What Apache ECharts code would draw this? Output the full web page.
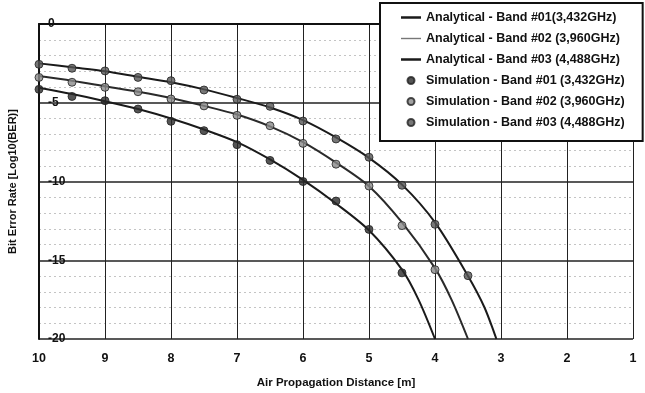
<!DOCTYPE html>
<html><head><meta charset="utf-8">
<script src="https://cdn.jsdelivr.net/npm/echarts@6/dist/echarts.min.js"></script>
<style>html,body{margin:0;padding:0;background:#fff}#c{width:645px;height:393px}</style>
</head><body><div id="c"></div>
<script>
// Analytical curves (x in m, y = log10(BER))
var anaX1 = [10, 9.5, 9, 8.5, 8, 7.5, 7, 6.5, 6, 5.5, 5, 4.5, 4.25, 4];
var anaY1 = [-4.05, -4.45, -4.9, -5.4, -6.0, -6.7, -7.5, -8.6, -9.9, -11.4, -13.1, -15.6, -17.5, -20];
var anaX2 = [10, 9.5, 9, 8.5, 8, 7.5, 7, 6.5, 6, 5.5, 5, 4.5, 4, 3.75, 3.5];
var anaY2 = [-3.3, -3.6, -3.95, -4.3, -4.7, -5.2, -5.75, -6.5, -7.5, -8.8, -10.3, -12.6, -15.5, -17.5, -20];
var anaX3 = [10, 9.5, 9, 8.5, 8, 7.5, 7, 6.5, 6, 5.5, 5, 4.5, 4, 3.5, 3.25, 3.07];
var anaY3 = [-2.5, -2.75, -3.0, -3.35, -3.7, -4.15, -4.7, -5.3, -6.1, -7.2, -8.5, -10.2, -12.6, -16.0, -18.0, -20];
// Simulation points
var simX1 = [10, 9.5, 9, 8.5, 8, 7.5, 7, 6.5, 6, 5.5, 5, 4.5];
var simY1 = [-4.15, -4.6, -4.87, -5.4, -6.18, -6.77, -7.66, -8.66, -10.0, -11.24, -13.04, -15.8];
var simX2 = [10, 9.5, 9, 8.5, 8, 7.5, 7, 6.5, 6, 5.5, 5, 4.5, 4];
var simY2 = [-3.39, -3.7, -4.02, -4.3, -4.76, -5.2, -5.8, -6.46, -7.58, -8.9, -10.29, -12.8, -15.6];
var simX3 = [10, 9.5, 9, 8.5, 8, 7.5, 7, 6.5, 6, 5.5, 5, 4.5, 4, 3.5];
var simY3 = [-2.56, -2.81, -2.98, -3.39, -3.6, -4.19, -4.78, -5.23, -6.16, -7.3, -8.46, -10.24, -12.72, -15.98];
var names = [
  'Analytical - Band #01(3,432GHz)',
  'Analytical - Band #02 (3,960GHz)',
  'Analytical - Band #03 (4,488GHz)',
  'Simulation - Band #01 (3,432GHz)',
  'Simulation - Band #02 (3,960GHz)',
  'Simulation - Band #03 (4,488GHz)'
];
var xTitle = 'Air Propagation Distance [m]';
var yTitle = 'Bit Error Rate [Log10(BER)]';

function zip(xs, ys){ return xs.map(function(x,i){ return [x, ys[i]]; }); }
var FONT = '"Liberation Sans", Arial, sans-serif';
var BAR = 'path://M0,0L20,0L20,2.5L0,2.5Z';
var BAR_THIN = 'path://M0,0L20,0L20,1.4L0,1.4Z';

var chart = echarts.init(document.getElementById('c'));
function lineS(name, xs, ys, color, w){
  return { name: name, type: 'line', data: zip(xs, ys), smooth: 0.3, symbol: 'none',
    lineStyle: { color: color, width: w }, itemStyle: { color: color }, z: 3 };
}
function scatS(name, xs, ys, color){
  return { name: name, type: 'scatter', data: zip(xs, ys), symbol: 'circle', symbolSize: 8,
    itemStyle: { color: color, borderColor: '#222', borderWidth: 1 }, z: 4 };
}
chart.setOption({
  animation: false,
  backgroundColor: '#fff',
  grid: { left: 39, right: 12, top: 24, bottom: 54, containLabel: false, outerBoundsMode: 'none' },
  legend: {
    orient: 'vertical', left: 380, top: 3,
    padding: [8, 18, 12, 21],
    itemGap: 8, itemWidth: 20, itemHeight: 7,
    backgroundColor: '#fff', borderColor: '#111', borderWidth: 2, borderRadius: 0,
    textStyle: { fontFamily: FONT, fontWeight: 'bold', fontSize: 12.5, color: '#111', lineHeight: 13 },
    data: [
      { name: names[0], icon: BAR, itemStyle: { color: '#1a1a1a' } },
      { name: names[1], icon: BAR_THIN, itemStyle: { color: '#777' } },
      { name: names[2], icon: BAR, itemStyle: { color: '#1a1a1a' } },
      { name: names[3], icon: 'circle' },
      { name: names[4], icon: 'circle' },
      { name: names[5], icon: 'circle' }
    ]
  },
  xAxis: {
    type: 'value', inverse: true, min: 1, max: 10, interval: 1,
    name: xTitle, nameLocation: 'middle', nameGap: 38,
    nameTextStyle: { fontFamily: FONT, fontWeight: 'bold', fontSize: 11.5, color: '#111' },
    axisLine: { show: true, lineStyle: { color: '#111', width: 2 } },
    axisTick: { show: true, length: 4, lineStyle: { color: '#111' } },
    axisLabel: { fontFamily: FONT, fontWeight: 'bold', fontSize: 12.5, color: '#111', margin: 13 },
    splitLine: { show: true, lineStyle: { color: '#222', width: 1 } }
  },
  yAxis: {
    type: 'value', min: -20, max: 0, interval: 5,
    name: yTitle, nameLocation: 'middle', nameGap: 21, nameRotate: 90,
    nameTextStyle: { fontFamily: FONT, fontWeight: 'bold', fontSize: 11, color: '#111' },
    axisLine: { show: true, lineStyle: { color: '#111', width: 2 } },
    axisTick: { show: false },
    axisLabel: { inside: true, margin: 9, fontFamily: FONT, fontWeight: 'bold', fontSize: 12, color: '#111' },
    splitLine: { show: true, lineStyle: { color: '#222', width: 1.5 } },
    minorTick: { show: false, splitNumber: 5 },
    minorSplitLine: { show: true, lineStyle: { color: '#c4c4c4', width: 1, type: [2, 3] } }
  },
  series: [
    lineS(names[0], anaX1, anaY1, '#1a1a1a', 2),
    lineS(names[1], anaX2, anaY2, '#2a2a2a', 2),
    lineS(names[2], anaX3, anaY3, '#1a1a1a', 2),
    scatS(names[3], simX1, simY1, '#2a2a2a'),
    scatS(names[4], simX2, simY2, '#8a8a8a'),
    scatS(names[5], simX3, simY3, '#555')
  ]
});
</script></body></html>
